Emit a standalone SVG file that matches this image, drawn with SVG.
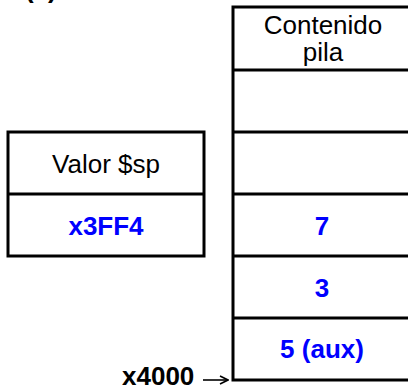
<svg xmlns="http://www.w3.org/2000/svg" width="408" height="389" viewBox="0 0 408 389">
<style>
.box{fill:#fff;stroke:#000;stroke-width:3}
.ln{stroke:#000;stroke-width:3;fill:none}
.t{font-family:"Liberation Sans",Arial,sans-serif;font-size:26px;fill:#000;text-anchor:middle}
.v{font-family:"Liberation Sans",Arial,sans-serif;font-size:26px;font-weight:bold;fill:#0000ff;text-anchor:middle}
.b{font-family:"Liberation Sans",Arial,sans-serif;font-size:26px;font-weight:bold;fill:#000}
</style>
<defs>
<marker id="ah" markerWidth="10" markerHeight="10" refX="9" refY="5" orient="auto" markerUnits="userSpaceOnUse">
<path d="M1,1 L9,5 L1,9" fill="none" stroke="#000" stroke-width="1.6"/>
</marker>
</defs>
<rect width="408" height="389" fill="#fff"/>
<text class="b" x="25" y="-2">(c)</text>
<g id="stack">
<rect class="box" x="233" y="7" width="190" height="373"/>
<line class="ln" x1="233" y1="70" x2="408" y2="70"/>
<line class="ln" x1="233" y1="132" x2="408" y2="132"/>
<line class="ln" x1="233" y1="194" x2="408" y2="194"/>
<line class="ln" x1="233" y1="256" x2="408" y2="256"/>
<line class="ln" x1="233" y1="318" x2="408" y2="318"/>
<text class="t" x="323" y="34">Contenido</text>
<text class="t" x="323" y="61">pila</text>
<text class="v" x="322" y="235">7</text>
<text class="v" x="322" y="297">3</text>
<text class="v" x="322" y="358">5 (aux)</text>
</g>
<g id="sp">
<rect class="box" x="8" y="132" width="196" height="124"/>
<line class="ln" x1="8" y1="194" x2="204" y2="194"/>
<text class="t" x="106" y="173">Valor $sp</text>
<text class="v" x="106" y="235">x3FF4</text>
</g>
<g id="addr">
<text class="b" x="122" y="385">x4000</text>
</g>
<g id="connectors">
<line x1="203" y1="380" x2="228" y2="380" stroke="#000" stroke-width="1.6" marker-end="url(#ah)"/>
</g>
</svg>
